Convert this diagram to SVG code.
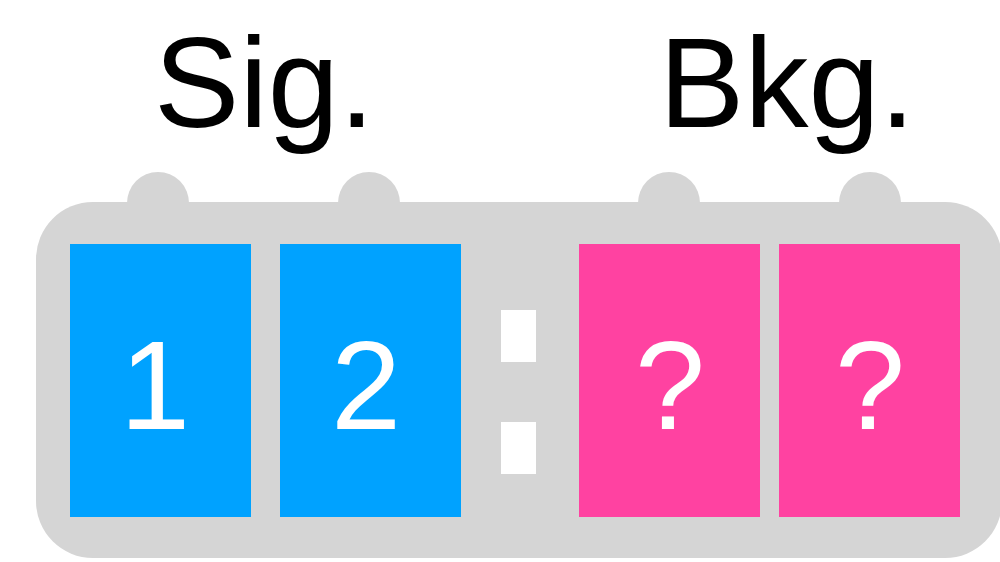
<svg xmlns="http://www.w3.org/2000/svg" width="1000" height="562" viewBox="0 0 1000 562">
<style>
.bg{fill:#d5d5d5}
.sig{fill:#00a2ff}
.bkg{fill:#ff42a1}
.dot{fill:#ffffff}
.lbl{font-family:"Liberation Sans",Arial,sans-serif;font-size:128px;fill:#000}
.num{font-family:"Liberation Sans",Arial,sans-serif;font-size:126px;fill:#fff;text-anchor:middle}
</style>
<g id="labels">
<text class="lbl" x="154" y="127">Sig.</text>
<text class="lbl" x="659" y="127">Bkg.</text>
</g>
<g id="tray">
<circle class="bg" cx="158" cy="203" r="31"/>
<circle class="bg" cx="369" cy="203" r="31"/>
<circle class="bg" cx="669" cy="203" r="31"/>
<circle class="bg" cx="870" cy="203" r="31"/>
<rect class="bg" x="36" y="202" width="966" height="356" rx="57" ry="57"/>
</g>
<g id="sig1"><rect class="sig" x="70" y="244" width="181" height="273"/><text class="num" x="155" y="429">1</text></g>
<g id="sig2"><rect class="sig" x="280" y="244" width="181" height="273"/><text class="num" x="366" y="429">2</text></g>
<g id="colon"><rect class="dot" x="501" y="310" width="35" height="52"/><rect class="dot" x="501" y="422" width="35" height="52"/></g>
<g id="bkg1"><rect class="bkg" x="579" y="244" width="181" height="273"/><text class="num" x="670" y="429">?</text></g>
<g id="bkg2"><rect class="bkg" x="779" y="244" width="181" height="273"/><text class="num" x="870" y="429">?</text></g>
<g id="connectors"/>
</svg>
